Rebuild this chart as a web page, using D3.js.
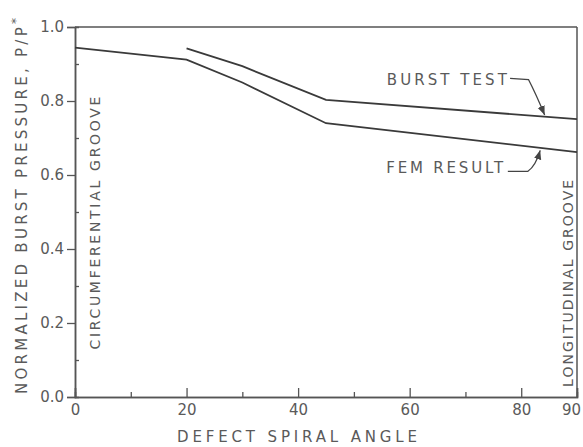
<!DOCTYPE html>
<html>
<head>
<meta charset="utf-8">
<script src="https://cdn.jsdelivr.net/npm/d3@7"></script>
<style>
  body { margin: 0; background: #fff; }
  text { font-family: "DejaVu Sans", sans-serif; fill: #5a5a5a; }
</style>
</head>
<body>
<div id="chart"></div>
<script>
// data
var femAngle = [0, 20, 30, 45, 90];
var femValue = [0.944, 0.912, 0.85, 0.74, 0.662];
var testAngle = [20, 30, 45, 90];
var testValue = [0.942, 0.894, 0.803, 0.751];
var xMajor = [0, 20, 40, 60, 80, 90];
var xMinor = [10, 30, 50, 70];
var yMajor = [0, 0.2, 0.4, 0.6, 0.8, 1.0];
var yMinor = [0.1, 0.3, 0.5, 0.7, 0.9];

var W = 583, H = 447;
var margin = {top: 27, right: 6, bottom: 50, left: 75};
var w = W - margin.left - margin.right,
    h = H - margin.top - margin.bottom;

var svg = d3.select("#chart").append("svg")
  .attr("width", W)
  .attr("height", H);
var g = svg.append("g")
  .attr("transform", "translate(" + margin.left + "," + margin.top + ")");

var x = d3.scaleLinear().domain([0, 90]).range([0, w]);
var y = d3.scaleLinear().domain([0, 1]).range([h, 0]);

var axisColor = "#555";

// frame: top and right
g.append("line").attr("x1", 0).attr("x2", w).attr("y1", 0).attr("y2", 0)
  .attr("stroke", axisColor).attr("stroke-width", 1.5);
g.append("line").attr("x1", w).attr("x2", w).attr("y1", 0).attr("y2", h)
  .attr("stroke", axisColor).attr("stroke-width", 1.5);

// x axis, ticks pointing up
var xAxis = g.append("g").attr("transform", "translate(0," + h + ")")
  .call(d3.axisBottom(x).tickValues(xMajor).tickSize(-9).tickPadding(15)
    .tickFormat(d3.format("d")));
g.append("g").attr("transform", "translate(0," + h + ")")
  .call(d3.axisBottom(x).tickValues(xMinor).tickSize(-5).tickFormat(""));

// y axis, major ticks out, minor in
var yAxis = g.append("g")
  .call(d3.axisLeft(y).tickValues(yMajor).tickSize(8).tickPadding(3)
    .tickFormat(d3.format(".1f")));
g.append("g")
  .call(d3.axisLeft(y).tickValues(yMinor).tickSize(-4).tickFormat(""));

g.selectAll(".domain").attr("stroke", axisColor).attr("stroke-width", 1.5);
g.selectAll(".tick line").attr("stroke", axisColor).attr("stroke-width", 1.3);
g.selectAll(".tick text").style("font-size", "15px").attr("fill", "#5a5a5a")
  .style("font-family", "DejaVu Sans, sans-serif");
xAxis.selectAll(".tick text").attr("dy", "0.2em")
  .attr("dx", function(d) { return d === 90 ? -6 : 0; });

// curves
var line = d3.line()
  .x(function(d) { return x(d[0]); })
  .y(function(d) { return y(d[1]); });

var fem = femAngle.map(function(a, i) { return [a, femValue[i]]; });
var test = testAngle.map(function(a, i) { return [a, testValue[i]]; });

g.append("path").datum(fem).attr("d", line)
  .attr("fill", "none").attr("stroke", "#3a3a3a").attr("stroke-width", 1.8);
g.append("path").datum(test).attr("d", line)
  .attr("fill", "none").attr("stroke", "#3a3a3a").attr("stroke-width", 1.8);

// arrowhead
svg.append("defs").append("marker")
  .attr("id", "arrow").attr("viewBox", "0 0 10 10")
  .attr("refX", 10).attr("refY", 5)
  .attr("markerWidth", 7).attr("markerHeight", 7)
  .attr("orient", "auto")
  .append("path").attr("d", "M0,1 L10,5 L0,9 Z").attr("fill", "#444");

// labels with leaders
g.append("text").attr("x", x(55.9)).attr("y", y(0.859))
  .attr("dy", "0.36em").style("font-size", "15px")
  .attr("textLength", 120).attr("lengthAdjust", "spacing")
  .text("BURST TEST");
g.append("path")
  .attr("d", "M" + x(78.0) + "," + y(0.861) + " L" + x(81.3) + "," + y(0.858) +
    " Q" + x(82.6) + "," + y(0.82) + " " + x(84.2) + "," + (y(0.757) - 2))
  .attr("fill", "none").attr("stroke", "#444").attr("stroke-width", 1.3)
  .attr("marker-end", "url(#arrow)");

g.append("text").attr("x", x(55.8)).attr("y", y(0.62))
  .attr("dy", "0.36em").style("font-size", "15px")
  .attr("textLength", 117).attr("lengthAdjust", "spacing")
  .text("FEM RESULT");
g.append("path")
  .attr("d", "M" + x(77.6) + "," + y(0.61) + " L" + x(81.2) + "," + y(0.61) +
    " Q" + x(82.6) + "," + y(0.625) + " " + x(83.4) + "," + (y(0.672) + 2))
  .attr("fill", "none").attr("stroke", "#444").attr("stroke-width", 1.3)
  .attr("marker-end", "url(#arrow)");

// rotated groove labels
g.append("text")
  .attr("transform", "translate(" + (x(0) + 20) + "," + y(0.47) + ") rotate(-90)")
  .attr("text-anchor", "middle").attr("dy", "0.36em")
  .style("font-size", "14px")
  .attr("textLength", 253).attr("lengthAdjust", "spacing")
  .text("CIRCUMFERENTIAL GROOVE");
g.append("text")
  .attr("transform", "translate(" + (w - 9) + "," + y(0.307) + ") rotate(-90)")
  .attr("text-anchor", "middle").attr("dy", "0.36em")
  .style("font-size", "14px")
  .attr("textLength", 207).attr("lengthAdjust", "spacing")
  .text("LONGITUDINAL GROOVE");

// axis titles
svg.append("text")
  .attr("x", 297).attr("y", 437)
  .attr("text-anchor", "middle").attr("dy", "0.36em")
  .style("font-size", "15px")
  .attr("textLength", 240).attr("lengthAdjust", "spacing")
  .text("DEFECT SPIRAL ANGLE");

var yt = svg.append("text")
  .attr("transform", "translate(22,206) rotate(-90)")
  .attr("text-anchor", "middle").attr("dy", "0.36em")
  .style("font-size", "15px")
  .attr("textLength", 376).attr("lengthAdjust", "spacing");
yt.append("tspan").text("NORMALIZED BURST PRESSURE, P/P");
yt.append("tspan").attr("baseline-shift", "super").style("font-size", "12px").text("*");
</script>
</body>
</html>
